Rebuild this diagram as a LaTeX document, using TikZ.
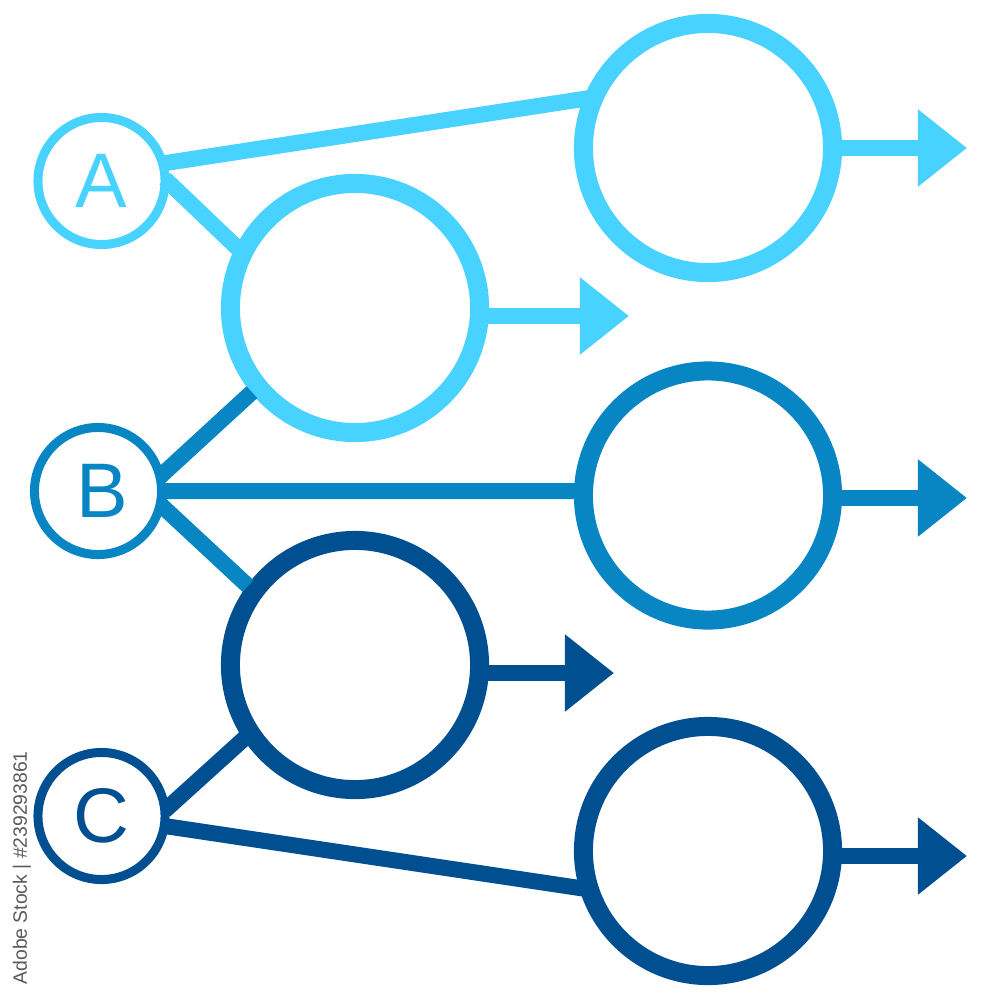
\documentclass[tikz,border=0pt]{standalone}
\usepackage{fontspec}
\setmainfont{Liberation Sans}
\usetikzlibrary{arrows.meta}
\definecolor{cA}{HTML}{48D2FF}
\definecolor{cB}{HTML}{0786C3}
\definecolor{cC}{HTML}{004F91}
\tikzset{
  x=0.01cm,y=-0.01cm,
  small/.style={circle,draw,line width=0.09cm,minimum size=1.27cm,inner sep=0pt,outer sep=0pt,font=\fontsize{22}{24}\selectfont},
  big/.style={circle,draw,line width=0.19cm,minimum size=2.49cm,inner sep=0pt,outer sep=0pt},
  link/.style={line width=0.16cm},
  under/.style={shorten >=0.085cm},
  outarrow/.style={line width=0.16cm,-{Triangle[length=0.49cm,width=0.74cm]}},
  stamp/.style={rotate=90,anchor=west,inner sep=0pt,text=black!65,font=\fontsize{5.5}{6}\selectfont}
}
\begin{document}
\begin{tikzpicture}
\useasboundingbox (0,0) rectangle (1000,1000);
\fill[white] (0,0) rectangle (1000,1000);
\node[small,draw=cA,text=cA] (A) at (101.5,181) {A};
\node[small,draw=cB,text=cB] (B) at (98,491) {\hspace{0.08cm}B};
\node[small,draw=cC,text=cC] (C) at (101.5,816) {C};
\node[big,draw=cA] (c1) at (708,148) {};
\node[big,draw=cA] (c2) at (355,308) {};
\node[big,draw=cB] (c3) at (708,495.5) {};
\node[big,draw=cC] (c4) at (355,665) {};
\node[big,draw=cC] (c5) at (708,851) {};
\coordinate (t1) at (967,148);
\coordinate (t2) at (629,316);
\coordinate (t3) at (967,498);
\coordinate (t4) at (614,673);
\coordinate (t5) at (967,856);
\draw[link,cA] (A.16) -- (c1.156);
\draw[link,cA] (A.2) -- (c2.154);
\draw[link,cB,under] (B.13) -- (c2.219);
\draw[link,cB] (B.0) -- (c3.178);
\draw[link,cB,under] (B.-12) -- (c4.144);
\draw[link,cC] (C.5) -- (c4.213);
\draw[link,cC] (C.-9) -- (c5.198);
\draw[outarrow,cA] (c1.east |- t1) -- (t1);
\draw[outarrow,cA] (c2.east |- t2) -- (t2);
\draw[outarrow,cB] (c3.east |- t3) -- (t3);
\draw[outarrow,cC] (c4.east |- t4) -- (t4);
\draw[outarrow,cC] (c5.east |- t5) -- (t5);
\node[stamp] (id) at (22,985) {Adobe Stock | \#239293861};
\end{tikzpicture}
\end{document}
